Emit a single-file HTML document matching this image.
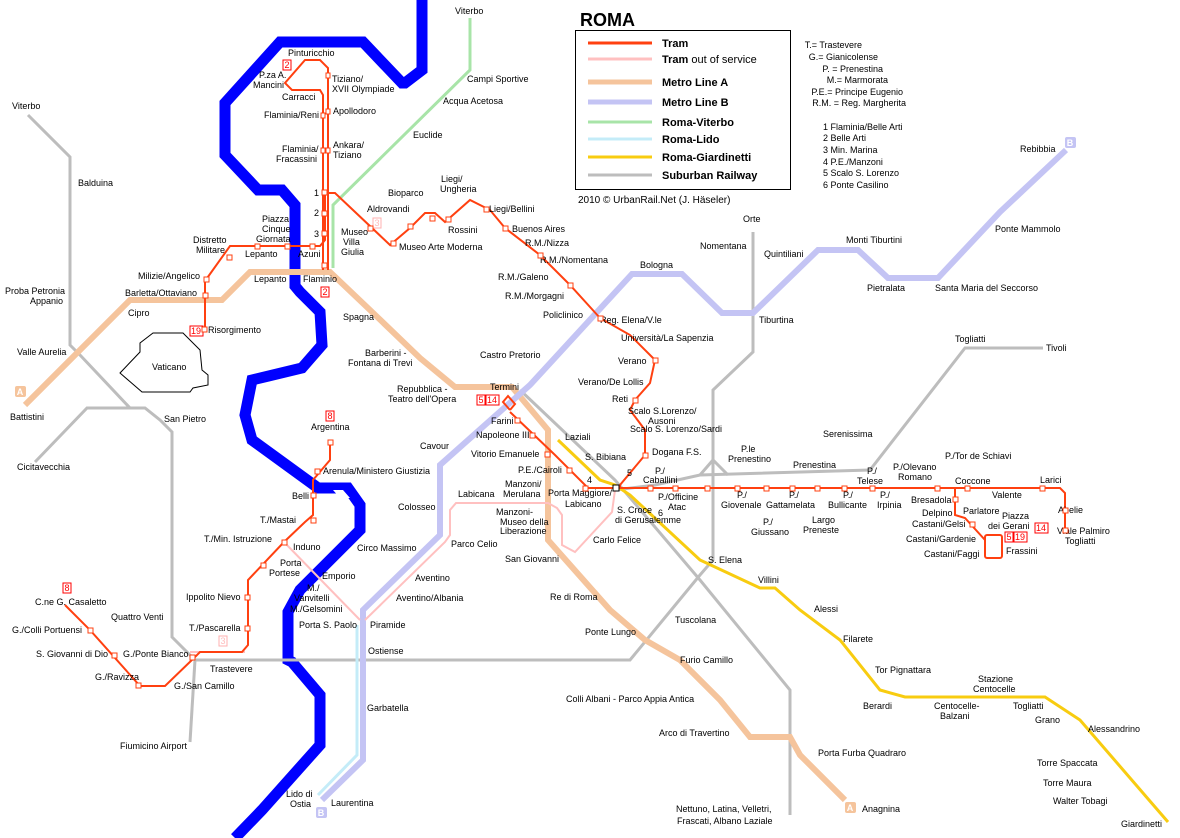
<!DOCTYPE html>
<html><head><meta charset="utf-8"><style>
html,body{margin:0;padding:0;background:#fff;}
svg{display:block;font-family:"Liberation Sans",sans-serif;}
text{font-size:9px;fill:#000;}
.lg{font-size:11px;font-weight:bold;}
</style></head><body>
<svg width="1180" height="838" viewBox="0 0 1180 838" xmlns="http://www.w3.org/2000/svg">
<rect width="1180" height="838" fill="#fff"/>
<!-- river -->
<path d="M422,0 L422,70 L405,83 L402,83 L363,42 L280,42 L225,103 L225,155 L258,190 L282,190 L295,205 L295,286 L300,292 L320,312 L322,345 L302,368 L252,380 L245,415 L252,440 L318,488 L348,488 L360,505 L360,530 L330,560 L300,590 L288,612 L288,660 L292,662 L320,695 L320,745 L262,810 L235,838" fill="none" stroke="#0000ff" stroke-width="11"/>
<polygon points="333,490 343,490 350,498 340,498" fill="#fff"/>
<!-- Vatican -->
<polygon points="120,373 140,352 140,343 153,333 183,333 200,350 202,370 208,375 208,385 193,388 190,392 142,392" fill="none" stroke="#000" stroke-width="1"/>
<!-- suburban -->
<g fill="none" stroke="#bdbdbd" stroke-width="3">
<polyline points="28,115 70,157 70,345 80,355 130,408"/>
<polyline points="35,462 87,408 145,408 160,420 172,432 172,637 195,660 630,660 700,575 713,560 713,390 753,352 753,232"/>
<polyline points="195,660 190,742"/>
<polyline points="520,390 615,480 700,580 790,690 790,815"/>
<polyline points="615,490 655,485 700,475 870,470 965,348 1043,348"/>
<polyline points="700,475 713,460 728,475"/>
</g>
<!-- viterbo -->
<polyline points="470,18 470,70 333,205 333,268" fill="none" stroke="#a8e4a8" stroke-width="3"/>
<!-- metro A -->
<polyline points="25,405 130,300 222,300 250,272 330,272 370,310 420,358 455,387 512,387 548,430 548,540 610,610 645,640 680,660 720,700 750,737 790,737 800,755 845,800" fill="none" stroke="#f5c49c" stroke-width="6"/>
<!-- metro B -->
<polyline points="322,800 363,760 363,610 440,535 440,465 530,385 632,274 682,274 722,313 753,313 818,250 858,250 888,278 938,278 1000,212 1066,150" fill="none" stroke="#c4c4f4" stroke-width="6"/>
<!-- lido -->
<polyline points="357,625 357,755 318,795" fill="none" stroke="#c4ecf8" stroke-width="3"/>
<!-- giardinetti -->
<polyline points="558,440 600,480 615,485 630,495 700,560 760,588 775,588 800,610 840,640 880,690 905,697 1045,697 1080,720 1168,822" fill="none" stroke="#f8cc10" stroke-width="3"/>
<!-- trams out of service -->
<g fill="none" stroke="#ffc0c0" stroke-width="2">
<polyline points="284,542 360,620"/>
<polyline points="365,620 445,542 450,535 450,510 456,503 548,503 557,508 562,515 562,545 575,552 612,512 615,490"/>
<polyline points="190,652 245,652"/>
</g>
<!-- trams -->
<g fill="none" stroke="#ff4010" stroke-width="2">
<polyline points="323,270 323,95 320,90 292,90 285,83 305,60 320,60 328,68 328,270"/>
<polyline points="205,330 205,281 230,246 320,246 325,240 325,193 335,193 390,245 410,228 425,213 435,213 445,222 470,200 490,210 505,228 540,255 570,285 600,318 630,335 655,360 650,383 635,400 630,410 645,430 645,455 620,485 620,488 1060,488 1065,493 1065,530"/>
<polyline points="955,488 955,515 965,518 985,540 985,555"/>
<rect x="985" y="535" width="17" height="23" rx="2"/>
<polyline points="65,605 90,630 140,686 165,686 195,657 200,652 242,652 248,645 248,580 284,542 305,522 313,515 313,480 330,460 330,440"/>
<polyline points="510,412 555,455 588,488 620,488"/>
<polyline points="510,410 503,402 508,396 515,404 510,410"/>
</g>
<!-- labels -->
<text x="580" y="26" style="font-size:18px;font-weight:bold">ROMA</text>
<rect x="575.5" y="30.5" width="215" height="159" fill="none" stroke="#000"/>
<g stroke-width="3"><line x1="588" y1="43" x2="652" y2="43" stroke="#ff4010"/><line x1="588" y1="59" x2="652" y2="59" stroke="#ffc0c0"/><line x1="588" y1="82" x2="652" y2="82" stroke="#f5c49c" stroke-width="5"/><line x1="588" y1="102" x2="652" y2="102" stroke="#c4c4f4" stroke-width="5"/><line x1="588" y1="122" x2="652" y2="122" stroke="#a8e4a8"/><line x1="588" y1="139" x2="652" y2="139" stroke="#c4ecf8"/><line x1="588" y1="157" x2="652" y2="157" stroke="#f8cc10"/><line x1="588" y1="175" x2="652" y2="175" stroke="#bdbdbd"/></g>
<text x="662" y="47" class="lg">Tram</text><text x="662" y="63" class="lg">Tram <tspan style="font-weight:normal">out of service</tspan></text><text x="662" y="86" class="lg">Metro Line A</text><text x="662" y="106" class="lg">Metro Line B</text><text x="662" y="126" class="lg">Roma-Viterbo</text><text x="662" y="143" class="lg">Roma-Lido</text><text x="662" y="161" class="lg">Roma-Giardinetti</text><text x="662" y="179" class="lg">Suburban Railway</text>
<text x="578" y="203" style="font-size:10px">2010 © UrbanRail.Net (J. Häseler)</text>
<g text-anchor="end"><text x="862" y="48">T.= Trastevere</text><text x="878" y="60">G.= Gianicolense</text><text x="883" y="72">P. = Prenestina</text><text x="888" y="83">M.= Marmorata</text><text x="903" y="95">P.E.= Principe Eugenio</text><text x="906" y="106">R.M. = Reg. Margherita</text></g>
<text x="823" y="130">1 Flaminia/Belle Arti</text><text x="823" y="141">2 Belle Arti</text><text x="823" y="153">3 Min. Marina</text><text x="823" y="165">4 P.E./Manzoni</text><text x="823" y="176">5 Scalo S. Lorenzo</text><text x="823" y="188">6 Ponte Casilino</text>
<text x="455" y="14">Viterbo</text><text x="467" y="82">Campi Sportive</text><text x="443" y="104">Acqua Acetosa</text><text x="413" y="138">Euclide</text>
<text x="288" y="56">Pinturicchio</text><text x="259" y="78">P.za A.</text><text x="253" y="88">Mancini</text><text x="332" y="82">Tiziano/</text><text x="332" y="92">XVII Olympiade</text><text x="282" y="100">Carracci</text><text x="333" y="114">Apollodoro</text><text x="264" y="118">Flaminia/Reni</text><text x="333" y="148">Ankara/</text><text x="333" y="158">Tiziano</text><text x="282" y="152">Flaminia/</text><text x="276" y="162">Fracassini</text>
<text x="388" y="196">Bioparco</text><text x="441" y="182">Liegi/</text><text x="440" y="192">Ungheria</text><text x="367" y="212">Aldrovandi</text><text x="489" y="212">Liegi/Bellini</text><text x="448" y="233">Rossini</text><text x="341" y="235">Museo</text><text x="343" y="245">Villa</text><text x="341" y="255">Giulia</text><text x="399" y="250">Museo Arte Moderna</text>
<text x="512" y="232">Buenos Aires</text><text x="525" y="246">R.M./Nizza</text><text x="540" y="263">R.M./Nomentana</text><text x="498" y="280">R.M./Galeno</text><text x="505" y="299">R.M./Morgagni</text><text x="543" y="318">Policlinico</text><text x="600" y="323">Reg. Elena/V.le</text><text x="621" y="341">Università/La Sapenzia</text><text x="480" y="358">Castro Pretorio</text><text x="618" y="364">Verano</text><text x="578" y="385">Verano/De Lollis</text><text x="612" y="402">Reti</text><text x="628" y="414">Scalo S.Lorenzo/</text><text x="648" y="424">Ausoni</text><text x="630" y="432">Scalo S. Lorenzo/Sardi</text><text x="652" y="455">Dogana F.S.</text>
<text x="262" y="222">Piazza</text><text x="262" y="232">Cinque</text><text x="256" y="242">Giornata</text><text x="193" y="243">Distretto</text><text x="196" y="253">Militare</text><text x="245" y="257">Lepanto</text><text x="298" y="257">Azuni</text><text x="254" y="282">Lepanto</text><text x="303" y="282">Flaminio</text><text x="138" y="279">Milizie/Angelico</text><text x="125" y="296">Barletta/Ottaviano</text><text x="5" y="294">Proba Petronia</text><text x="30" y="304">Appanio</text><text x="128" y="316">Cipro</text><text x="343" y="320">Spagna</text><text x="208" y="333">Risorgimento</text><text x="17" y="355">Valle Aurelia</text><text x="152" y="370">Vaticano</text>
<text x="365" y="356">Barberini -</text><text x="348" y="366">Fontana di Trevi</text><text x="397" y="392">Repubblica -</text><text x="388" y="402">Teatro dell'Opera</text><text x="490" y="390">Termini</text><text x="491" y="424">Farini</text><text x="476" y="438">Napoleone III</text><text x="565" y="440">Laziali</text><text x="471" y="457">Vitorio Emanuele</text><text x="585" y="460">S. Bibiana</text><text x="518" y="473">P.E./Cairoli</text>
<text x="10" y="420">Battistini</text><text x="17" y="470">Cicitavecchia</text><text x="164" y="422">San Pietro</text><text x="311" y="430">Argentina</text><text x="323" y="474">Arenula/Ministero Giustizia</text><text x="420" y="449">Cavour</text><text x="292" y="499">Belli</text><text x="398" y="510">Colosseo</text><text x="260" y="523">T./Mastai</text><text x="204" y="542">T./Min. Istruzione</text><text x="293" y="550">Induno</text><text x="280" y="566">Porta</text><text x="269" y="576">Portese</text><text x="322" y="579">Emporio</text><text x="357" y="551">Circo Massimo</text><text x="451" y="547">Parco Celio</text><text x="415" y="581">Aventino</text><text x="186" y="600">Ippolito Nievo</text><text x="307" y="591">M./</text><text x="294" y="601">Vanvitelli</text><text x="290" y="612">M./Gelsomini</text><text x="396" y="601">Aventino/Albania</text><text x="299" y="628">Porta S. Paolo</text><text x="370" y="628">Piramide</text><text x="111" y="620">Quattro Venti</text><text x="189" y="631">T./Pascarella</text><text x="35" y="605">C.ne G. Casaletto</text><text x="12" y="633">G./Colli Portuensi</text><text x="36" y="657">S. Giovanni di Dio</text><text x="123" y="657">G./Ponte Bianco</text><text x="368" y="654">Ostiense</text><text x="210" y="672">Trastevere</text><text x="95" y="680">G./Ravizza</text><text x="174" y="689">G./San Camillo</text><text x="367" y="711">Garbatella</text><text x="120" y="749">Fiumicino Airport</text><text x="286" y="797">Lido di</text><text x="290" y="807">Ostia</text><text x="331" y="806">Laurentina</text>
<text x="458" y="497">Labicana</text><text x="505" y="487">Manzoni/</text><text x="503" y="497">Merulana</text><text x="548" y="496">Porta Maggiore/</text><text x="565" y="507">Labicano</text><text x="496" y="515">Manzoni-</text><text x="500" y="525">Museo della</text><text x="500" y="534">Liberazione</text><text x="617" y="513">S. Croce</text><text x="615" y="523">di Gerusalemme</text><text x="593" y="543">Carlo Felice</text><text x="505" y="562">San Giovanni</text><text x="550" y="600">Re di Roma</text><text x="585" y="635">Ponte Lungo</text><text x="675" y="623">Tuscolana</text><text x="680" y="663">Furio Camillo</text><text x="566" y="702">Colli Albani - Parco Appia Antica</text><text x="659" y="736">Arco di Travertino</text><text x="818" y="756">Porta Furba Quadraro</text><text x="862" y="812">Anagnina</text><text x="676" y="812">Nettuno, Latina, Velletri,</text><text x="677" y="824">Frascati, Albano Laziale</text>
<text x="708" y="563">S. Elena</text><text x="758" y="583">Villini</text><text x="814" y="612">Alessi</text><text x="843" y="642">Filarete</text><text x="875" y="673">Tor Pignattara</text><text x="863" y="709">Berardi</text><text x="934" y="709">Centocelle-</text><text x="940" y="719">Balzani</text><text x="978" y="682">Stazione</text><text x="973" y="692">Centocelle</text><text x="1013" y="709">Togliatti</text><text x="1035" y="723">Grano</text><text x="1088" y="732">Alessandrino</text><text x="1037" y="766">Torre Spaccata</text><text x="1043" y="786">Torre Maura</text><text x="1053" y="804">Walter Tobagi</text><text x="1121" y="827">Giardinetti</text>
<text x="741" y="452">P.le</text><text x="728" y="462">Prenestino</text><text x="793" y="468">Prenestina</text><text x="823" y="437">Serenissima</text><text x="955" y="342">Togliatti</text><text x="1046" y="351">Tivoli</text>
<text x="655" y="474">P./</text><text x="643" y="483">Caballini</text><text x="658" y="500">P./Officine</text><text x="668" y="510">Atac</text><text x="737" y="498">P./</text><text x="721" y="508">Giovenale</text><text x="789" y="498">P./</text><text x="766" y="508">Gattamelata</text><text x="843" y="498">P./</text><text x="828" y="508">Bullicante</text><text x="880" y="498">P./</text><text x="877" y="508">Irpinia</text><text x="763" y="525">P./</text><text x="751" y="535">Giussano</text><text x="812" y="523">Largo</text><text x="803" y="533">Preneste</text><text x="867" y="474">P./</text><text x="857" y="484">Telese</text><text x="893" y="470">P./Olevano</text><text x="898" y="480">Romano</text><text x="945" y="459">P./Tor de Schiavi</text><text x="955" y="484">Coccone</text><text x="992" y="498">Valente</text><text x="1040" y="483">Larici</text><text x="1058" y="513">Abelie</text><text x="911" y="503">Bresadola</text><text x="922" y="516">Delpino</text><text x="963" y="514">Parlatore</text><text x="1002" y="519">Piazza</text><text x="988" y="529">dei Gerani</text><text x="912" y="527">Castani/Gelsi</text><text x="906" y="542">Castani/Gardenie</text><text x="924" y="557">Castani/Faggi</text><text x="1006" y="554">Frassini</text><text x="1057" y="534">Viale Palmiro</text><text x="1065" y="544">Togliatti</text>
<text x="700" y="249">Nomentana</text><text x="743" y="222">Orte</text><text x="764" y="257">Quintiliani</text><text x="846" y="243">Monti Tiburtini</text><text x="867" y="291">Pietralata</text><text x="935" y="291">Santa Maria del Seccorso</text><text x="995" y="232">Ponte Mammolo</text><text x="1020" y="152">Rebibbia</text><text x="640" y="268">Bologna</text><text x="759" y="323">Tiburtina</text><text x="78" y="186">Balduina</text><text x="12" y="109">Viterbo</text>
<text x="314" y="196">1</text><text x="314" y="216">2</text><text x="314" y="237">3</text><text x="587" y="483">4</text><text x="627" y="476">5</text><text x="658" y="516">6</text>
<!-- badges -->
<g font-size="9" text-anchor="middle">
<rect x="283" y="60" width="8" height="10" fill="#fff" stroke="#ff0000"/><text x="287" y="68" style="fill:#f00">2</text>
<rect x="321" y="287" width="8" height="10" fill="#fff" stroke="#ff0000"/><text x="325" y="295" style="fill:#f00">2</text>
<rect x="373" y="218" width="8" height="10" fill="#fff" stroke="#ffb0b0"/><text x="377" y="226" style="fill:#fbb">3</text>
<rect x="190" y="326" width="13" height="10" fill="#fff" stroke="#ff0000"/><text x="196" y="334" style="fill:#f00">19</text>
<rect x="326" y="411" width="8" height="10" fill="#fff" stroke="#ff0000"/><text x="330" y="419" style="fill:#f00">8</text>
<rect x="477" y="395" width="8" height="10" fill="#fff" stroke="#ff0000"/><text x="481" y="403" style="fill:#f00">5</text>
<rect x="486" y="395" width="13" height="10" fill="#fff" stroke="#ff0000"/><text x="492" y="403" style="fill:#f00">14</text>
<rect x="63" y="583" width="8" height="10" fill="#fff" stroke="#ff0000"/><text x="67" y="591" style="fill:#f00">8</text>
<rect x="219" y="636" width="8" height="10" fill="#fff" stroke="#ffb0b0"/><text x="223" y="644" style="fill:#fbb">3</text>
<rect x="1005" y="532" width="8" height="10" fill="#fff" stroke="#ff0000"/><text x="1009" y="540" style="fill:#f00">5</text>
<rect x="1014" y="532" width="13" height="10" fill="#fff" stroke="#ff0000"/><text x="1020" y="540" style="fill:#f00">19</text>
<rect x="1035" y="523" width="13" height="10" fill="#fff" stroke="#ff0000"/><text x="1041" y="531" style="fill:#f00">14</text>
<rect x="15" y="386" width="11" height="11" rx="2" fill="#f5c49c"/><text x="20" y="395" style="fill:#fff;font-weight:bold">A</text>
<rect x="845" y="802" width="11" height="11" rx="2" fill="#f5c49c"/><text x="850" y="811" style="fill:#fff;font-weight:bold">A</text>
<rect x="1065" y="137" width="11" height="11" rx="2" fill="#c4c4f4"/><text x="1070" y="146" style="fill:#fff;font-weight:bold">B</text>
<rect x="316" y="807" width="11" height="11" rx="2" fill="#c4c4f4"/><text x="321" y="816" style="fill:#fff;font-weight:bold">B</text>
</g>
<!-- stops -->
<g fill="#fff" stroke="#ff4010" stroke-width="1">
<rect x="326" y="73" width="4" height="5"/><rect x="326" y="109" width="4" height="5"/><rect x="321" y="113" width="4" height="5"/><rect x="326" y="148" width="4" height="5"/><rect x="321" y="148" width="4" height="5"/><rect x="322" y="190" width="5" height="5"/><rect x="322" y="211" width="5" height="5"/><rect x="322" y="231" width="5" height="5"/><rect x="322" y="263" width="5" height="5"/><rect x="368" y="226" width="5" height="5"/><rect x="391" y="241" width="5" height="5"/><rect x="408" y="224" width="5" height="5"/><rect x="430" y="216" width="5" height="5"/><rect x="446" y="217" width="5" height="5"/><rect x="484" y="207" width="5" height="5"/><rect x="503" y="226" width="5" height="5"/><rect x="538" y="253" width="5" height="5"/><rect x="568" y="283" width="5" height="5"/><rect x="598" y="316" width="5" height="5"/><rect x="653" y="358" width="5" height="5"/><rect x="633" y="398" width="5" height="5"/><rect x="643" y="453" width="5" height="5"/><rect x="202" y="327" width="5" height="5"/><rect x="203" y="293" width="5" height="5"/><rect x="204" y="277" width="5" height="5"/><rect x="227" y="255" width="5" height="5"/><rect x="255" y="244" width="5" height="5"/><rect x="285" y="244" width="5" height="5"/><rect x="310" y="244" width="5" height="5"/><rect x="311" y="493" width="5" height="5"/><rect x="311" y="518" width="5" height="5"/><rect x="328" y="440" width="5" height="5"/><rect x="315" y="469" width="5" height="5"/><rect x="282" y="540" width="5" height="5"/><rect x="261" y="563" width="5" height="5"/><rect x="245" y="595" width="5" height="5"/><rect x="245" y="626" width="5" height="5"/><rect x="88" y="628" width="5" height="5"/><rect x="112" y="653" width="5" height="5"/><rect x="136" y="683" width="5" height="5"/><rect x="190" y="655" width="5" height="5"/><rect x="705" y="486" width="5" height="5"/><rect x="735" y="486" width="5" height="5"/><rect x="764" y="486" width="5" height="5"/><rect x="790" y="486" width="5" height="5"/><rect x="815" y="486" width="5" height="5"/><rect x="842" y="486" width="5" height="5"/><rect x="870" y="486" width="5" height="5"/><rect x="935" y="486" width="5" height="5"/><rect x="965" y="486" width="5" height="5"/><rect x="1040" y="486" width="5" height="5"/><rect x="1063" y="508" width="5" height="5"/><rect x="1063" y="528" width="5" height="5"/><rect x="953" y="497" width="5" height="5"/><rect x="970" y="522" width="5" height="5"/><rect x="648" y="486" width="5" height="5"/><rect x="673" y="486" width="5" height="5"/><rect x="545" y="452" width="5" height="5"/><rect x="515" y="418" width="5" height="5"/><rect x="530" y="433" width="5" height="5"/><rect x="567" y="468" width="5" height="5"/><rect x="583" y="486" width="5" height="5"/></g>
<rect x="613" y="485" width="6" height="6" fill="#fff" stroke="#000"/>
</svg>
</body></html>
